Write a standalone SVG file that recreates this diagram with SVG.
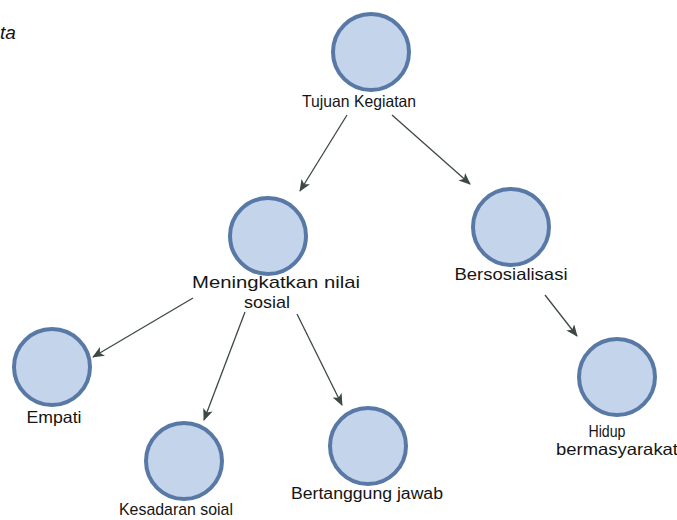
<svg xmlns="http://www.w3.org/2000/svg" width="677" height="520" viewBox="0 0 677 520">
<style>
.node circle{fill:#c4d4ea;stroke:#5879a6;stroke-width:4}
.lbl{font-family:"Liberation Sans",Arial,sans-serif;fill:#151515;text-anchor:middle;font-size:16px}
.edge{stroke:#3d4847;stroke-width:1.3;fill:none;marker-end:url(#ah)}
</style>
<defs>
<marker id="ah" viewBox="0 0 12 10" refX="11" refY="5" markerWidth="12" markerHeight="10" markerUnits="userSpaceOnUse" orient="auto">
<path d="M0,0 L12,5 L0,10 L3,5 Z" fill="#3d4847"/>
</marker>
</defs>
<rect width="677" height="520" fill="#ffffff"/>
<text x="0" y="39" style="font-family:'Liberation Sans',sans-serif;font-style:italic;font-size:19px;fill:#111">ta</text>
<g id="connectors">
<line class="edge" x1="347" y1="115" x2="300" y2="191"/>
<line class="edge" x1="392" y1="115" x2="470" y2="184"/>
<line class="edge" x1="193" y1="298" x2="93" y2="357"/>
<line class="edge" x1="245" y1="312" x2="204" y2="420"/>
<line class="edge" x1="297" y1="314" x2="342" y2="405"/>
<line class="edge" x1="545" y1="295" x2="577" y2="336"/>
</g>
<g id="n-tujuan" class="node"><circle cx="371" cy="52" r="38"/><text class="lbl" x="359" y="107" style="font-size:16.5px" textLength="114" lengthAdjust="spacingAndGlyphs">Tujuan Kegiatan</text></g>
<g id="n-meningkatkan" class="node"><circle cx="268" cy="236" r="38"/><text class="lbl" x="276" y="288" style="font-size:17px" textLength="168" lengthAdjust="spacingAndGlyphs">Meningkatkan nilai</text><text class="lbl" x="267" y="308" style="font-size:17px" textLength="46" lengthAdjust="spacingAndGlyphs">sosial</text></g>
<g id="n-bersosialisasi" class="node"><circle cx="511" cy="227" r="38"/><text class="lbl" x="511" y="280" style="font-size:16.5px" textLength="113" lengthAdjust="spacingAndGlyphs">Bersosialisasi</text></g>
<g id="n-empati" class="node"><circle cx="52" cy="367" r="38"/><text class="lbl" x="54" y="423" style="font-size:16.5px" textLength="55" lengthAdjust="spacingAndGlyphs">Empati</text></g>
<g id="n-kesadaran" class="node"><circle cx="184" cy="461" r="38"/><text class="lbl" x="176" y="515" style="font-size:17px" textLength="114" lengthAdjust="spacingAndGlyphs">Kesadaran soial</text></g>
<g id="n-bertanggung" class="node"><circle cx="368" cy="446" r="38"/><text class="lbl" x="367" y="499" textLength="152" lengthAdjust="spacingAndGlyphs">Bertanggung jawab</text></g>
<g id="n-hidup" class="node"><circle cx="617" cy="377" r="38"/><text class="lbl" x="607" y="437" style="font-size:17px" textLength="37" lengthAdjust="spacingAndGlyphs">Hidup</text><text class="lbl" x="617" y="455" style="font-size:16.5px" textLength="122" lengthAdjust="spacingAndGlyphs">bermasyarakat</text></g>
</svg>
